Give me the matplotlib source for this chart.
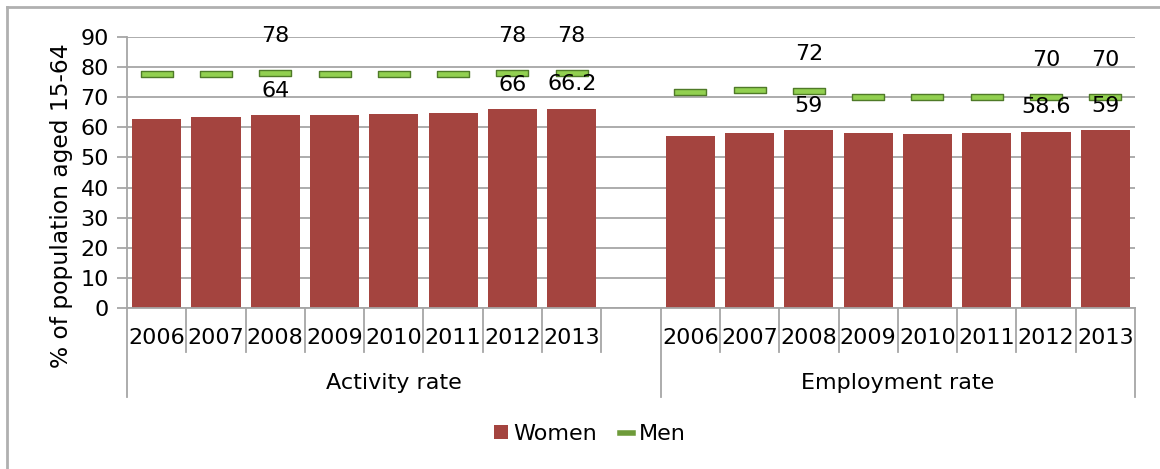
import numpy as np
import matplotlib.pyplot as plt
from matplotlib.path import Path
from matplotlib.lines import Line2D
from matplotlib.patches import Patch
import matplotlib.transforms as mtransforms

plt.rcParams['font.family'] = 'DejaVu Sans'

years = ['2006', '2007', '2008', '2009', '2010', '2011', '2012', '2013']
groups = ['Activity rate', 'Employment rate']

women_activity = [62.8, 63.4, 64, 64.1, 64.5, 64.9, 66, 66.2]
men_activity = [77.6, 77.6, 78, 77.6, 77.6, 77.6, 78, 78]
women_employment = [57.2, 58.2, 59, 58.2, 57.9, 58.2, 58.6, 59]
men_employment = [71.8, 72.5, 72, 70.2, 70.2, 70.2, 70, 70]

# which years carry value labels
labelled = [2, 6, 7]
women_labels = [['64', '66', '66.2'], ['59', '58.6', '59']]
men_labels = [['78', '78', '78'], ['72', '70', '70']]

WOMEN = '#A4443F'
MEN_FILL = '#92D050'
MEN_EDGE = '#4F7A28'
GRID = '#A6A6A6'
FS = 16

# one empty slot between the two groups
n = len(years)
x_act = np.arange(n)
x_emp = np.arange(n) + n + 1
n_slots = 2 * n + 1

fig = plt.figure(figsize=(11.6, 4.69), dpi=100)
ax = fig.add_axes([127 / 1160, 161 / 469, 1008 / 1160, 271 / 469])

# dash-shaped marker for the men series
dash = Path([(-0.5, -0.1), (0.5, -0.1), (0.5, 0.1), (-0.5, 0.1), (-0.5, -0.1)],
            [Path.MOVETO, Path.LINETO, Path.LINETO, Path.LINETO, Path.CLOSEPOLY])

for xs, women, men, wl, ml in [(x_act, women_activity, men_activity, women_labels[0], men_labels[0]),
                               (x_emp, women_employment, men_employment, women_labels[1], men_labels[1])]:
    ax.bar(xs, women, width=0.83, color=WOMEN, zorder=2)
    ax.plot(xs, men, linestyle='none', marker=dash, markersize=23,
            markerfacecolor=MEN_FILL, markeredgecolor=MEN_EDGE, markeredgewidth=1, zorder=3)
    for k, i in enumerate(labelled):
        ax.annotate(ml[k], (xs[i], men[i]), xytext=(0, 27), textcoords='offset points',
                    ha='center', va='center', fontsize=FS, zorder=4)
        ax.annotate(wl[k], (xs[i], women[i]), xytext=(0, 17.5), textcoords='offset points',
                    ha='center', va='center', fontsize=FS, zorder=4)

ax.set_xlim(-0.5, n_slots - 0.5)
ax.set_ylim(0, 90)
ax.set_yticks(range(0, 91, 10))
ax.tick_params(axis='y', labelsize=FS, length=7, color=GRID, width=1.3, pad=6)
ax.set_xticks([])
ax.yaxis.grid(True, color=GRID, linewidth=1.3, zorder=0)
ax.set_axisbelow(True)
for s in ['top', 'right']:
    ax.spines[s].set_visible(False)
for s in ['left', 'bottom']:
    ax.spines[s].set_color(GRID)
    ax.spines[s].set_linewidth(1.3)

ax.set_ylabel('% of population aged 15-64', fontsize=16.8, va='center')
ax.yaxis.set_label_coords(-0.0645, 0.376)

# two-level category axis
trans = mtransforms.blended_transform_factory(ax.transData, ax.transAxes)
for xs in (x_act, x_emp):
    for x, y in zip(xs, years):
        ax.text(x, -0.11, y, transform=trans, ha='center', va='center', fontsize=FS)
short = list(np.arange(1, n + 1) - 0.5) + list(np.arange(n + 2, n_slots) - 0.5)
long = [-0.5, n + 0.5, n_slots - 0.5]
for x in short:
    ax.plot([x, x], [0, -0.162], transform=trans, color=GRID, lw=1.3, clip_on=False)
for x in long:
    ax.plot([x, x], [0, -0.328], transform=trans, color=GRID, lw=1.3, clip_on=False)
ax.text((long[0] + long[1]) / 2, -0.277, groups[0], transform=trans,
        ha='center', va='center', fontsize=FS)
ax.text((long[1] + long[2]) / 2, -0.277, groups[1], transform=trans,
        ha='center', va='center', fontsize=FS)

handles = [Patch(facecolor=WOMEN, label='Women'),
           Line2D([], [], color='#6E9B3A', lw=4, label='Men')]
fig.legend(handles=handles, loc='center', bbox_to_anchor=(590 / 1160, 1 - 434 / 469),
           ncol=2, frameon=False, fontsize=FS, handlelength=0.6, handleheight=0.6,
           handletextpad=0.27, columnspacing=1.0, borderpad=0)

# chart frame
fig.add_artist(Line2D([7 / 1160, 7 / 1160], [0, 1 - 7 / 469], color='#B0B0B0', lw=2))
fig.add_artist(Line2D([7 / 1160, 1], [1 - 7 / 469, 1 - 7 / 469], color='#B0B0B0', lw=2))

fig.savefig('out.png', dpi=100)
